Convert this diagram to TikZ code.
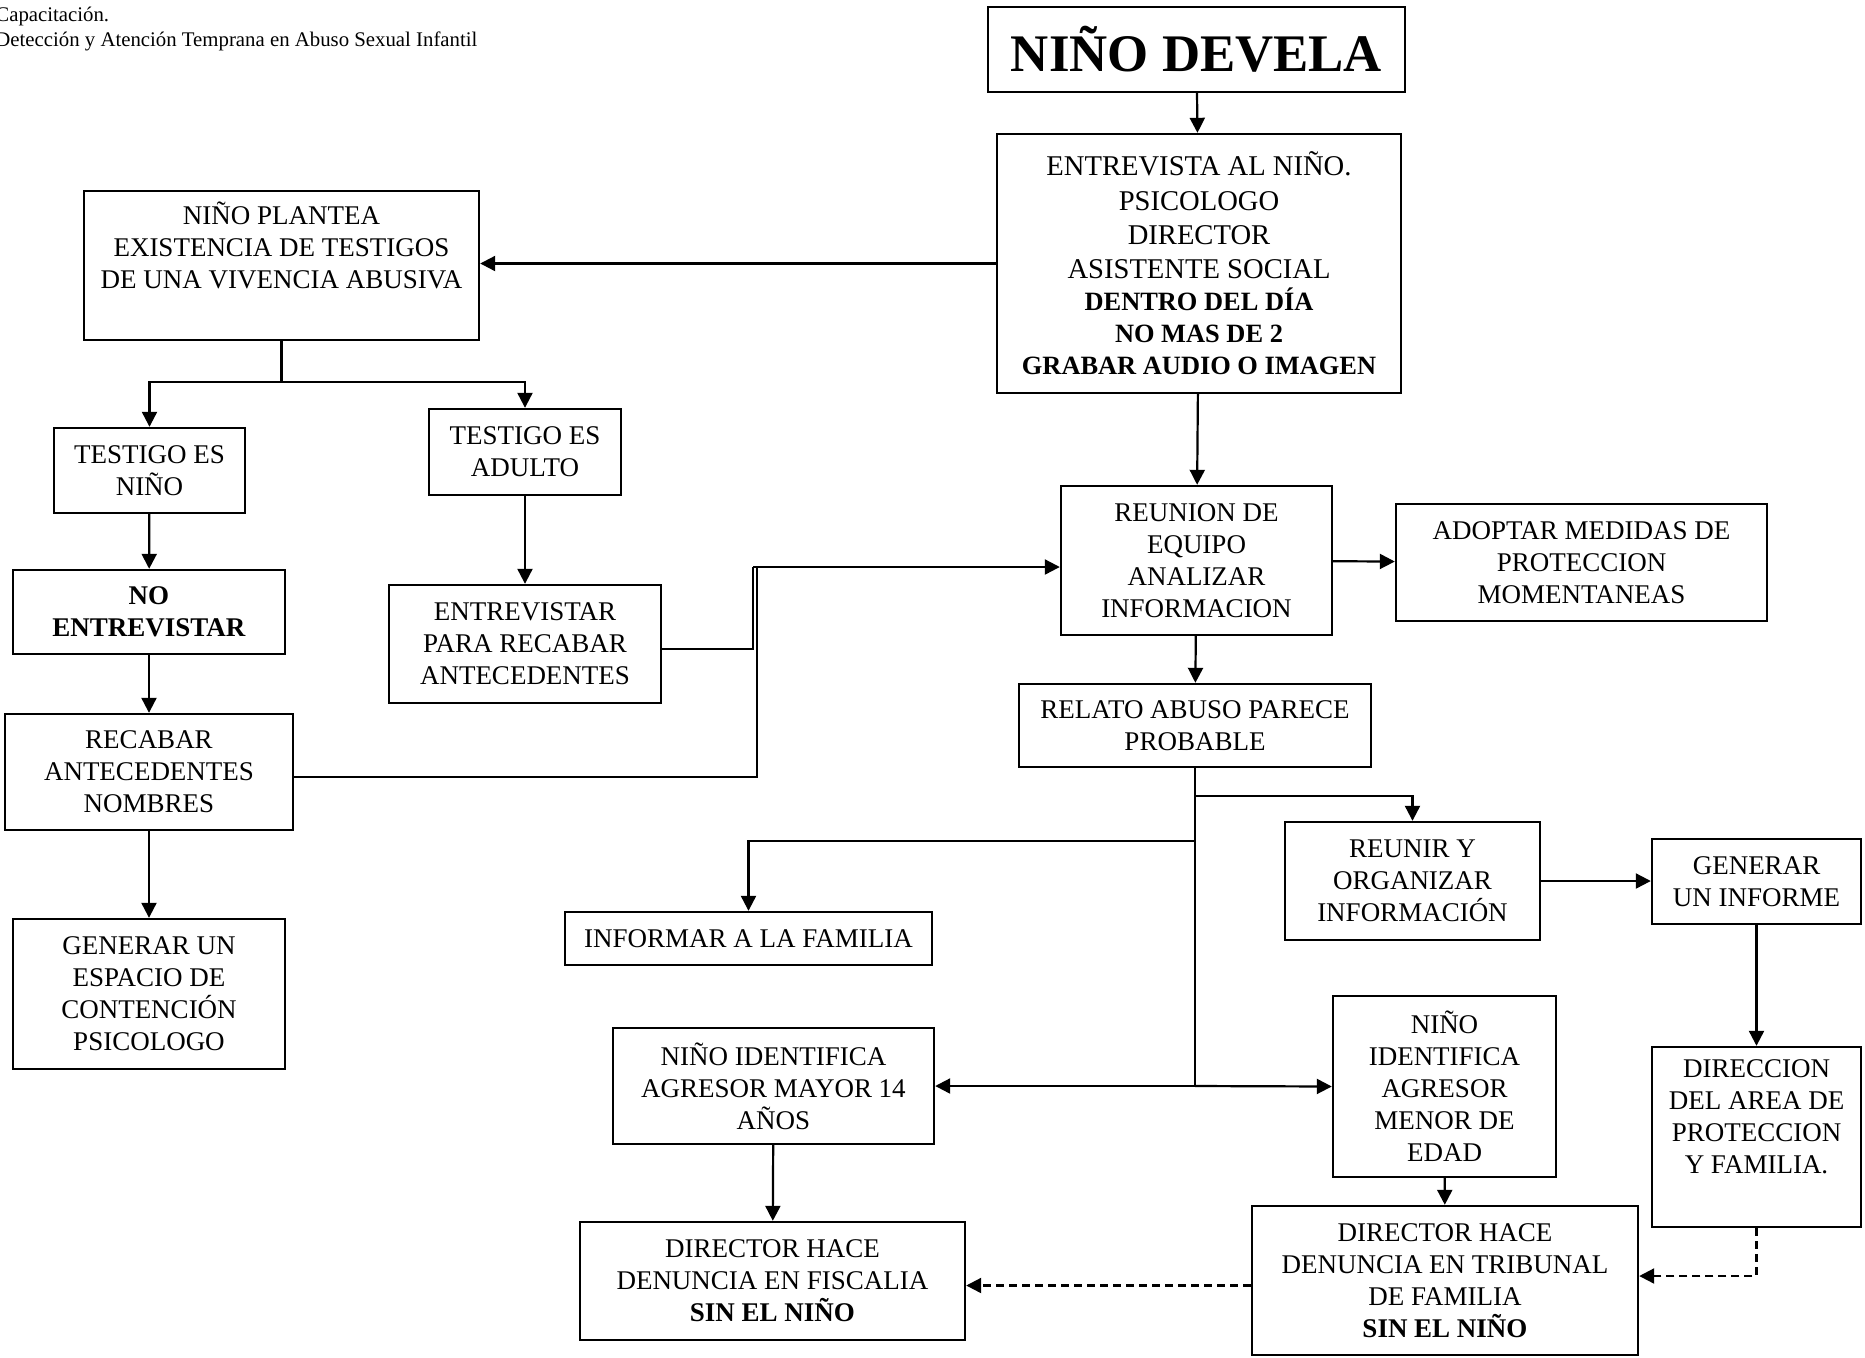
\documentclass[tikz,border=0pt]{standalone}
\usepackage{fontspec}
\setmainfont{Liberation Serif}
\usetikzlibrary{arrows.meta,positioning}
\tikzset{
  ln/.style={line width=1.1pt},
  ar/.style={ln,-{Triangle[length=7.5pt,width=7.5pt]}},
  dl/.style={ar,dash pattern=on 4pt off 2.5pt},
  box/.style={draw,line width=1.2pt,align=center,inner sep=0pt,font=\fontsize{13.5}{16}\selectfont},
  sz/.style 2 args={minimum width=#1*0.5pt,minimum height=#2*0.5pt}
}
\newcommand{\negr}[1]{{\fontsize{13.2}{16}\selectfont\bfseries #1}}

\begin{document}
\begin{tikzpicture}[x=0.5pt,y=-0.5pt]
\useasboundingbox (0,0) rectangle (1865,1357);
\node[anchor=north west,align=left,inner sep=0pt,font=\fontsize{10.4}{12.5}\selectfont] (cab) at (-5,7) {Capacitación.\\Detección y Atención Temprana en Abuso Sexual Infantil};

\node[box,sz={417}{85},font=\fontsize{26.4}{30}\selectfont\bfseries] (dev) at (1196.5,49.5) {NIÑO DEVELA};
\node[box,sz={404}{259},font=\fontsize{14.3}{17.2}\selectfont] (ent) at (1199,263.5) {ENTREVISTA AL NIÑO.\\PSICOLOGO\\DIRECTOR\\ASISTENTE SOCIAL\\[-1.2pt]\negr{DENTRO DEL DÍA}\\[-1.2pt]\negr{NO MAS DE 2}\\[-1.2pt]\negr{GRABAR AUDIO O IMAGEN}};
\node[box,sz={395}{149}] (pla) at (281.5,265.5) {NIÑO PLANTEA\\EXISTENCIA DE TESTIGOS\\DE UNA VIVENCIA ABUSIVA\\ \strut};
\node[box,sz={191}{85}] (tni) at (149.5,470.5) {TESTIGO ES\\NIÑO};
\node[box,sz={192}{86}] (tad) at (525,452) {TESTIGO ES\\ADULTO};
\node[box,sz={272}{84}] (noe) at (149,612) {\textbf{NO}\\\textbf{ENTREVISTAR}};
\node[box,sz={272}{118}] (err) at (525,644) {ENTREVISTAR\\PARA RECABAR\\ANTECEDENTES};
\node[box,sz={288}{116}] (rec) at (149,772) {RECABAR\\ANTECEDENTES\\NOMBRES};
\node[box,sz={272}{150}] (esp) at (149,994) {GENERAR UN\\ESPACIO DE\\CONTENCIÓN\\PSICOLOGO};
\node[box,sz={271}{149}] (reu) at (1196.5,560.5) {REUNION DE\\EQUIPO\\ANALIZAR\\INFORMACION};
\node[box,sz={371}{117}] (ado) at (1581.5,562.5) {ADOPTAR MEDIDAS DE\\PROTECCION\\MOMENTANEAS};
\node[box,sz={352}{83}] (rel) at (1195,725.5) {RELATO ABUSO PARECE\\PROBABLE};
\node[box,sz={255}{118}] (reo) at (1412.5,881) {REUNIR Y\\ORGANIZAR\\INFORMACIÓN};
\node[box,sz={209}{85}] (inf) at (1756.5,881.5) {GENERAR\\UN INFORME};
\node[box,sz={367}{53}] (fam) at (748.5,938.5) {INFORMAR A LA FAMILIA};
\node[box,sz={321}{116}] (may) at (773.5,1086) {NIÑO IDENTIFICA\\AGRESOR MAYOR 14\\AÑOS};
\node[box,sz={223}{181}] (men) at (1444.5,1086.5) {NIÑO\\IDENTIFICA\\AGRESOR\\MENOR DE\\EDAD};
\node[box,sz={209}{180}] (dir) at (1756.5,1137) {DIRECCION\\DEL AREA DE\\PROTECCION\\Y FAMILIA.\\ \strut};
\node[box,sz={385}{118}] (fis) at (772.5,1281) {DIRECTOR HACE\\DENUNCIA EN FISCALIA\\\textbf{SIN EL NIÑO}};
\node[box,sz={386}{149}] (tri) at (1445,1280.5) {DIRECTOR HACE\\DENUNCIA EN TRIBUNAL\\DE FAMILIA\\\textbf{SIN EL NIÑO}};

\draw[ar] (dev) -- (ent);
\draw[ar] (ent.west) -- (ent.west -| pla.east);
\coordinate (psp) at (281.5,382);
\draw[ar] (pla.south) -- (psp) -| (tni.north);
\draw[ar] (psp) -| (tad.north);
\draw[ar] (tni) -- (noe); \draw[ar] (noe) -- (rec); \draw[ar] (rec) -- (esp);
\draw[ar] (tad) -- (err);
\coordinate (rj) at (755,567);
\draw[ln] ([yshift=-2.5pt]err.east) -| ([xshift=-1pt]rj);
\draw[ln] ([yshift=-2.5pt]rec.east) -| ([xshift=1pt]rj);
\draw[ar] ([xshift=-1pt]rj) -- (rj -| reu.west);
\draw[ar] (ent) -- (reu);
\draw[ar] (reu) -- (ado);
\draw[ar] (reu) -- (rel);
\coordinate (t1) at (1195,796); \coordinate (t2) at (1195,841); \coordinate (t3) at (1195,1086);
\draw[ln] (rel.south) -- (t3);
\draw[ar] (t1) -| (reo.north);
\draw[ar] (t2) -| (fam.north);
\draw[ar] (t3) -- (may.east);
\draw[ar] (t3) -- (men.west);
\draw[ar] (reo.east) -- (reo.east -| inf.west);
\draw[ar] (inf) -- (dir);
\draw[ar] (may) -- (fis);
\draw[ar] (men) -- (tri);
\coordinate (dq) at ([yshift=-2.5pt]tri.west);
\draw[dl] (dq) -- (dq -| fis.east);
\draw[dl] (dir.south) |- ([yshift=2.25pt]tri.east);
\end{tikzpicture}
\end{document}
